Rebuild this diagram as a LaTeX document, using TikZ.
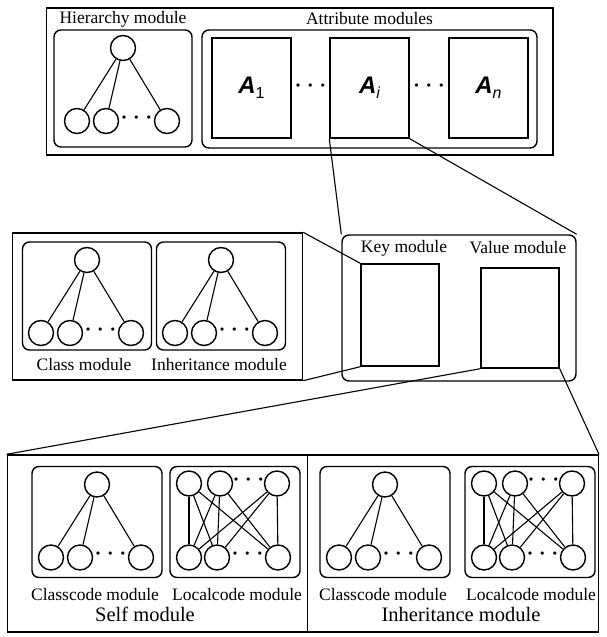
\documentclass[tikz,border=0pt]{standalone}
\usepackage{fontspec}
\setmainfont{Liberation Serif}
\newfontfamily\attrfont{Liberation Sans}
\usetikzlibrary{positioning}

\tikzset{
  frame/.style={draw, inner sep=0pt},
  module/.style={draw, rounded corners=7pt, inner sep=0pt},
  slot/.style={draw, inner sep=0pt, minimum width=79pt, minimum height=100pt},
  vertex/.style={draw, circle, inner sep=0pt, minimum size=25pt},
  link/.style={line width=1.1pt},
  caption/.style={inner sep=0pt, font=\fontsize{17.5}{20}\selectfont},
  heading/.style={inner sep=0pt, font=\fontsize{20.5}{24}\selectfont},
}

% three dots between siblings
\newcommand{\dotrow}{{\fontsize{27}{27}\selectfont ·\hspace{3.5pt}·\hspace{3.5pt}·}}

% attribute name A with its index
\newcommand{\attrname}[1]{{\attrfont\fontsize{24}{24}\selectfont\bfseries\itshape A}\raisebox{-5pt}{\attrfont\fontsize{16}{16}\selectfont #1}}

% root with three children; #2 is the top centre of the surrounding box
\newcommand{\classtree}[2]{%
  \begin{scope}[shift={#2}]
    \node[vertex] (#1-root) at (0,18) {};
    \node[vertex] (#1-1) at (-46,91) {};
    \node[vertex] (#1-2) at (-17,91) {};
    \node[vertex] (#1-n) at (44,91) {};
    \node (#1-dots) at (13.5,91) {\dotrow};
    \foreach \c in {1,2,n} \draw[link] (#1-root) -- (#1-\c);
  \end{scope}}

% two rows of three, every top vertex joined to every bottom vertex
\newcommand{\localgraph}[2]{%
  \begin{scope}[shift={#2}]
    \node[vertex] (#1-t1) at (-46,17) {};
    \node[vertex] (#1-t2) at (-15,17) {};
    \node[vertex] (#1-tn) at (42,17) {};
    \node[vertex] (#1-b1) at (-46,91) {};
    \node[vertex] (#1-b2) at (-18,91) {};
    \node[vertex] (#1-bn) at (43,91) {};
    \node (#1-tdots) at (13.5,17) {\dotrow};
    \node (#1-bdots) at (12.5,91) {\dotrow};
    \foreach \u in {t1,t2,tn}
      \foreach \v in {b1,b2,bn}
        \draw[link] (#1-\u) -- (#1-\v);
  \end{scope}}

\begin{document}
\begin{tikzpicture}[x=1pt, y=-1pt, line width=1.4pt]
\useasboundingbox (0,0) rectangle (606,637);

% hierarchy and attribute modules
\node[frame, minimum width=506.5pt, minimum height=147pt] (schema) at (299.75,81.5) {};
\node[module, minimum width=138pt, minimum height=117pt] (hier) at (123,88.5) {};
\node[module, minimum width=335pt, minimum height=118pt] (attrs) at (369.5,89) {};
\node[caption] (hierlbl) at (123,19) {Hierarchy module};
\node[caption] (attrlbl) at (369.5,19) {Attribute modules};
\classtree{h}{(123,30)}
\node[slot] (a1) at (251.5,88) {\attrname{1}};
\node[slot] (ai) at (369.5,88) {\attrname{\itshape i}};
\node[slot] (an) at (488.5,88) {\attrname{\itshape n}};
\node (adots1) at (310.5,89) {\dotrow};
\node (adots2) at (429,89) {\dotrow};

% key side
\node[frame, minimum width=290pt, minimum height=147pt] (keydetail) at (157.5,306.5) {};
\node[module, minimum width=129pt, minimum height=108pt] (cls) at (87,296) {};
\node[module, minimum width=129pt, minimum height=108pt] (inh) at (221,296) {};
\classtree{c}{(87,242)}
\classtree{i}{(221,242)}
\node[caption] (clslbl) at (84,365) {Class module};
\node[caption] (inhlbl) at (219,365) {Inheritance module};

% key/value pair of one attribute
\node[module, minimum width=234pt, minimum height=146pt] (pair) at (459,308) {};
\node[frame, minimum width=78pt, minimum height=102pt] (key) at (400,315) {};
\node[frame, minimum width=78pt, minimum height=100pt] (val) at (520,318) {};
\node[caption] (keylbl) at (404,248) {Key module};
\node[caption] (vallbl) at (518,248) {Value module};

% value side
\node[frame, minimum width=300pt, minimum height=177pt] (self) at (157.3,543.5) {};
\node[frame, minimum width=291pt, minimum height=177pt] (inherit) at (452.8,543.5) {};
\foreach \n/\x in {selfcc/97, selflc/235, inhcc/385, inhlc/530}
  \node[module, minimum width=130pt, minimum height=111pt] (\n) at (\x,522) {};
\classtree{sc}{(97,466.5)}
\localgraph{sl}{(235,466.5)}
\classtree{ic}{(385,466.5)}
\localgraph{il}{(530,466.5)}
\node[caption] (sccap) at (95,595) {Classcode module};
\node[caption] (slcap) at (237,595) {Localcode module};
\node[caption] (iccap) at (383,595) {Classcode module};
\node[caption] (ilcap) at (531,595) {Localcode module};
\node[heading] (selflbl) at (145,614) {Self module};
\node[heading] (inheritlbl) at (461,614) {Inheritance module};

% zoom lines
\draw[link] (ai.south west) -- (pair.north west);
\draw[link] (ai.south east) -- (pair.north east);
\draw[link] (keydetail.north east) -- (key.north west);
\draw[link] (keydetail.south east) -- (key.south west);
\draw[link] (val.south west) -- (self.north west);
\draw[link] (val.south east) -- (inherit.north east);
\end{tikzpicture}
\end{document}
